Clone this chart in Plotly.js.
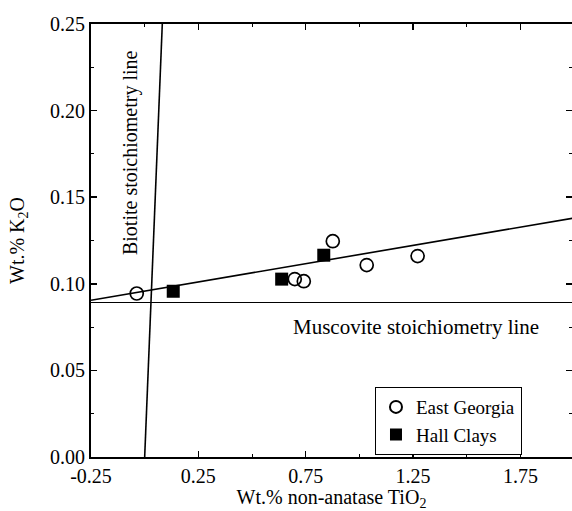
<!DOCTYPE html>
<html>
<head>
<meta charset="utf-8">
<script src="https://cdn.plot.ly/plotly-3.0.1.min.js"></script>
<style>html,body{margin:0;padding:0;background:#fff;overflow:hidden;}</style>
</head>
<body>
<div id="chart" style="width:572px;height:511px;"></div>
<script>
// East Georgia (open circles)
const eastGeorgiaX = [-0.037, 0.699, 0.741, 0.876, 1.034, 1.271];
const eastGeorgiaY = [0.0944, 0.1027, 0.1015, 0.1246, 0.1108, 0.1160];
// Hall Clays (filled squares)
const hallClaysX = [0.133, 0.638, 0.834];
const hallClaysY = [0.0957, 0.1027, 0.1165];
// Regression line through all points
const fitX = [-0.25, 2.0];
const fitY = [0.0905, 0.1380];
// Muscovite stoichiometry line (horizontal)
const muscoviteX = [-0.25, 2.0];
const muscoviteY = [0.0892, 0.0892];
// Biotite stoichiometry line (near vertical)
const biotiteX = [0.0, 0.082];
const biotiteY = [0.0, 0.25];
// Tick labels
const xTickVals = [-0.25, 0.25, 0.75, 1.25, 1.75];
const xTickText = ['-0.25', '0.25', '0.75', '1.25', '1.75'];
const yTickVals = [0, 0.05, 0.10, 0.15, 0.20, 0.25];
const yTickText = ['0.00', '0.05', '0.10', '0.15', '0.20', '0.25'];

const font = {family: '"Liberation Serif", "DejaVu Serif", serif', color: '#000'};
const f = s => Object.assign({size: s}, font);

const traces = [
  {x: fitX, y: fitY, mode: 'lines', line: {color: '#000', width: 1.6}, showlegend: false, hoverinfo: 'skip'},
  {x: muscoviteX, y: muscoviteY, mode: 'lines', line: {color: '#000', width: 1.2}, showlegend: false, hoverinfo: 'skip'},
  {x: biotiteX, y: biotiteY, mode: 'lines', line: {color: '#000', width: 1.6}, showlegend: false, hoverinfo: 'skip'},
  {x: eastGeorgiaX, y: eastGeorgiaY, mode: 'markers', name: 'East Georgia',
   marker: {symbol: 'circle-open', size: 13, color: '#000', line: {width: 1.7, color: '#000'}}},
  {x: hallClaysX, y: hallClaysY, mode: 'markers', name: 'Hall Clays',
   marker: {symbol: 'square', size: 13, color: '#000'}}
];

const layout = {
  width: 572, height: 511,
  margin: {l: 91, r: 0, t: 24, b: 54},
  paper_bgcolor: '#fff', plot_bgcolor: '#fff',
  font: f(20),
  xaxis: {
    range: [-0.25, 1.99], tickmode: 'array', tickvals: xTickVals, ticktext: xTickText,
    ticks: 'inside', ticklen: 6, tickwidth: 1.5, tickcolor: '#000',
    minor: {dtick: 0.25, tick0: -0.25, ticks: 'inside', ticklen: 3, tickwidth: 1, tickcolor: '#000'},
    showline: true, linecolor: '#000', linewidth: 2, mirror: 'ticks',
    showgrid: false, zeroline: false,
    tickfont: f(20), ticklabelstandoff: 0,
    title: {text: 'Wt.% non-anatase TiO<sub>2</sub>', font: f(20), standoff: 0}
  },
  yaxis: {
    range: [0, 0.25], tickmode: 'array', tickvals: yTickVals, ticktext: yTickText,
    ticks: 'inside', ticklen: 6, tickwidth: 1.5, tickcolor: '#000',
    minor: {dtick: 0.025, tick0: 0, ticks: 'inside', ticklen: 3, tickwidth: 1, tickcolor: '#000'},
    showline: true, linecolor: '#000', linewidth: 2, mirror: 'ticks',
    showgrid: false, zeroline: false,
    tickfont: f(20),
    title: {text: 'Wt.% K<sub>2</sub>O', font: f(20), standoff: 20}
  },
  legend: {
    x: 0.59, y: 0.162, xanchor: 'left', yanchor: 'top',
    bgcolor: '#fff', bordercolor: '#000', borderwidth: 1.2,
    font: f(19), itemsizing: 'constant', tracegroupgap: 0
  },
  annotations: [
    {x: -0.069, y: 0.176, xref: 'x', yref: 'y', text: 'Biotite stoichiometry line', textangle: -90,
     showarrow: false, font: f(20)},
    {x: 1.262, y: 0.0749, xref: 'x', yref: 'y', text: 'Muscovite stoichiometry line',
     showarrow: false, font: f(21)}
  ]
};

Plotly.newPlot('chart', traces, layout, {staticPlot: true, displayModeBar: false});
</script>
</body>
</html>
